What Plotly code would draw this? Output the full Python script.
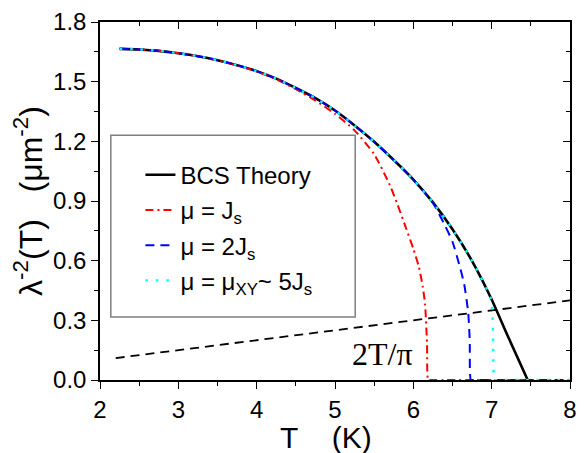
import plotly.graph_objects as go

# ---- data ----
T_bcs = [2.25, 2.5, 2.75, 3.0, 3.25, 3.5, 3.75, 4.0, 4.25, 4.5, 4.75, 5.0, 5.25, 5.5, 5.75,
         6.0, 6.25, 6.5, 6.75, 7.0, 7.2, 7.46]
V_bcs = [1.665, 1.662, 1.655, 1.643, 1.628, 1.608, 1.583, 1.553, 1.515, 1.468, 1.417, 1.355, 1.28, 1.198, 1.106,
         1.008, 0.893, 0.758, 0.598, 0.405, 0.226, 0.0]

T_j1 = [2.25, 2.5, 2.75, 3.0, 3.25, 3.5, 3.75, 4.0, 4.25, 4.5, 4.75, 5.0, 5.25, 5.5, 5.7, 5.8, 5.9,
        6.0, 6.07, 6.12, 6.15, 6.175, 6.19, 6.22, 8.0]
V_j1 = [1.665, 1.662, 1.655, 1.643, 1.628, 1.607, 1.582, 1.551, 1.512, 1.462, 1.405, 1.338, 1.255, 1.135, 0.98,
        0.88, 0.771, 0.66, 0.57, 0.47, 0.38, 0.18, 0.0, 0.0, 0.0]

T_j2 = [2.25, 2.5, 2.75, 3.0, 3.25, 3.5, 3.75, 4.0, 4.25, 4.5, 4.75, 5.0, 5.25, 5.5, 5.75,
        6.0, 6.25, 6.4, 6.5, 6.6, 6.65, 6.7, 6.72, 6.735, 6.77, 8.0]
V_j2 = [1.665, 1.662, 1.655, 1.643, 1.628, 1.608, 1.583, 1.553, 1.515, 1.468, 1.417, 1.355, 1.28, 1.198, 1.106,
        1.008, 0.89, 0.78, 0.695, 0.56, 0.48, 0.34, 0.2, 0.0, 0.0, 0.0]

T_xy = [2.25, 2.5, 2.75, 3.0, 3.25, 3.5, 3.75, 4.0, 4.25, 4.5, 4.75, 5.0, 5.25, 5.5, 5.75,
        6.0, 6.25, 6.5, 6.75, 6.99, 7.01, 7.02, 7.035, 7.07, 8.0]
V_xy = [1.665, 1.662, 1.655, 1.643, 1.628, 1.608, 1.583, 1.553, 1.515, 1.468, 1.417, 1.355, 1.28, 1.198, 1.106,
        1.008, 0.893, 0.758, 0.598, 0.41, 0.33, 0.18, 0.0, 0.0, 0.0]

T_kt = [2.2, 8.0]
V_kt = [0.11, 0.40]

x_ticks = [2, 3, 4, 5, 6, 7, 8]
y_ticks = [0.0, 0.3, 0.6, 0.9, 1.2, 1.5, 1.8]
y_ticklabels = ["0.0", "0.3", "0.6", "0.9", "1.2", "1.5", "1.8"]

FONT = "Arial, Liberation Sans, sans-serif"
SM = 0.6

fig = go.Figure()
fig.add_trace(go.Scatter(x=T_kt, y=V_kt, mode="lines", showlegend=False,
                         line=dict(color="black", width=1.8, dash="9px,6px")))
fig.add_trace(go.Scatter(x=T_bcs, y=V_bcs, mode="lines", name="BCS Theory", legendgroup="a",
                         line=dict(color="black", width=2.6, shape="spline", smoothing=SM)))
fig.add_trace(go.Scatter(x=T_j1, y=V_j1, mode="lines", name="\u03bc = J<sub>s</sub>", legendgroup="b",
                         line=dict(color="red", width=2, dash="8px,4px,2px,4px", shape="spline", smoothing=SM)))
fig.add_trace(go.Scatter(x=T_j2, y=V_j2, mode="lines", name="\u03bc = 2J<sub>s</sub>", legendgroup="c",
                         line=dict(color="blue", width=2, dash="9px,6px", shape="spline", smoothing=SM)))
fig.add_trace(go.Scatter(x=T_xy, y=V_xy, mode="lines",
                         name="\u03bc = \u03bc<sub>XY</sub>~ 5J<sub>s</sub>", legendgroup="d",
                         line=dict(color="cyan", width=2.4, dash="2.5px,8px", shape="spline", smoothing=SM)))
# invisible trace to anchor the mirrored top/right axes
fig.add_trace(go.Scatter(x=[2, 8], y=[0, 1.8], xaxis="x2", yaxis="y2", mode="lines",
                         line=dict(width=0), showlegend=False, hoverinfo="skip"))

axis_common = dict(showgrid=False, zeroline=False, showline=True, linecolor="black",
                   linewidth=1.5, tickcolor="black", tickwidth=1.3)

fig.update_layout(
    width=585, height=453,
    margin=dict(l=100, r=8, t=22, b=73),
    paper_bgcolor="white", plot_bgcolor="white",
    font=dict(family=FONT, color="black"),
    xaxis=dict(range=[2, 8], tickmode="array", tickvals=x_ticks,
               ticks="outside", ticklen=7, tickfont=dict(size=24),
               minor=dict(dtick=0.5, tick0=2, ticks="outside", ticklen=4, tickcolor="black", tickwidth=1.3),
               **axis_common),
    yaxis=dict(range=[0, 1.8], tickmode="array", tickvals=y_ticks, ticktext=y_ticklabels,
               ticks="outside", ticklen=7, tickfont=dict(size=24),
               minor=dict(dtick=0.15, tick0=0, ticks="outside", ticklen=4, tickcolor="black", tickwidth=1.3),
               title=dict(text="\u03bb<sup>-2</sup>(T)\u00a0\u00a0\u00a0(\u03bcm<sup>-2</sup>)",
                          font=dict(size=32), standoff=1),
               **axis_common),
    xaxis2=dict(range=[2, 8], overlaying="x", side="top", anchor="y2", tickmode="array", tickvals=x_ticks,
                ticks="inside", ticklen=7, showticklabels=False,
                minor=dict(dtick=0.5, tick0=2, ticks="inside", ticklen=4, tickcolor="black", tickwidth=1.3),
                **axis_common),
    yaxis2=dict(range=[0, 1.8], overlaying="y", side="right", anchor="x2", tickmode="array", tickvals=y_ticks,
                ticks="inside", ticklen=7, showticklabels=False,
                minor=dict(dtick=0.15, tick0=0, ticks="inside", ticklen=4, tickcolor="black", tickwidth=1.3),
                **axis_common),
    legend=dict(x=0.086, y=0.635, xanchor="left", yanchor="top", bgcolor="rgba(0,0,0,0)",
                borderwidth=0, font=dict(size=24, family=FONT), tracegroupgap=1),
    shapes=[dict(type="rect", xref="paper", yref="paper", x0=0.023, x1=0.543, y0=0.176, y1=0.684,
                 line=dict(color="#7f7f7f", width=1.5), fillcolor="rgba(0,0,0,0)", layer="below")],
    annotations=[
        dict(x=6.02, y=0.13, xref="x", yref="y", text="2T/\u03c0", showarrow=False,
             xanchor="right", yanchor="middle",
             font=dict(family="Liberation Serif, Times New Roman, serif", size=32)),
        dict(x=0.481, y=-0.16, xref="paper", yref="paper", text="T\u00a0\u00a0\u00a0\u00a0(K)",
             showarrow=False, xanchor="center", yanchor="middle", font=dict(size=30)),
    ],
)

fig.write_html("out.html")
